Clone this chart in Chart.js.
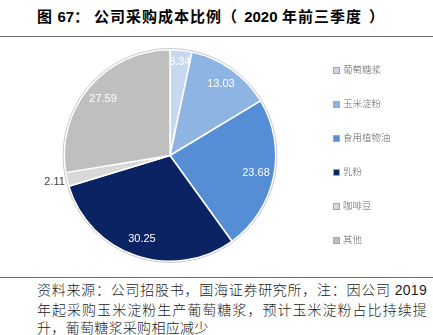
<!DOCTYPE html>
<html>
<head>
<meta charset="utf-8">
<script src="https://cdn.jsdelivr.net/npm/chart.js@4"></script>
<style>
  html, body { margin: 0; padding: 0; background: #fff; }
  body { width: 433px; height: 335px; position: relative; overflow: hidden; font-family: "Noto Sans CJK SC", sans-serif; }
  #title { position: absolute; left: 37px; top: 5px; font-size: 15px; letter-spacing: 1px; font-weight: bold; color: #000; white-space: nowrap; line-height: 22px; }
  #title .num { font-family: "Liberation Sans", Arial, sans-serif; letter-spacing: 0; }
  #title .gap { display: inline-block; }
  #line1 { position: absolute; left: 0; top: 36px; width: 433px; height: 0; border-top: 1.5px solid #6e6e6e; }
  #line2 { position: absolute; left: 0; top: 277px; width: 433px; height: 0; border-top: 1.5px solid #6e6e6e; }
  #wrap { position: absolute; left: 0; top: 40px; width: 433px; height: 236px; }
  #foot { position: absolute; left: 37px; top: 280px; width: 390px; font-size: 14px; font-weight: 300; letter-spacing: 0.3px; line-height: 18.5px; color: #222; text-align: justify; }
  #legend { position: absolute; left: 333px; top: 0; }
  .li { position: absolute; left: 0; white-space: nowrap; font-size: 9.5px; font-weight: 300; color: #666; line-height: 12px; height: 12px; }
  .sw { position: absolute; left: 0; top: 2.5px; width: 5px; height: 5px; border: 1px solid #a6a6a6; }
  .lt { position: absolute; left: 10px; top: -1px; }
</style>
</head>
<body>
<div id="title">图 <span class="num">67</span>：<span class="gap" style="width:4px"></span>公司采购成本比例（<span class="gap" style="width:6px"></span><span class="num">2020</span> 年前三季度<span class="gap" style="width:7px"></span>）</div>
<div id="line1"></div>
<div id="wrap"><canvas id="c"></canvas></div>
<div id="legend"></div>
<div id="line2"></div>
<div id="foot">资料来源：公司招股书，国海证券研究所，注：因公司 <span style="font-family:'Liberation Sans',Arial,sans-serif">2019</span> 年起采购玉米淀粉生产葡萄糖浆，预计玉米淀粉占比持续提升，葡萄糖浆采购相应减少</div>
<script>
const categories = ["葡萄糖浆", "玉米淀粉", "食用植物油", "乳粉", "咖啡豆", "其他"];
const shares = [3.34, 13.03, 23.68, 30.25, 2.11, 27.59];
const colors = ["#c6d9f1", "#8eb4e3", "#558ed5", "#0b2263", "#d9d9d9", "#bfbfbf"];

// HTML legend built from the same arrays
const legendEl = document.getElementById('legend');
categories.forEach((name, i) => {
  const d = document.createElement('div');
  d.className = 'li';
  d.style.top = (64 + i * 34) + 'px';
  const sw = document.createElement('div');
  sw.className = 'sw';
  sw.style.background = colors[i];
  const t = document.createElement('div');
  t.className = 'lt';
  t.textContent = name;
  d.appendChild(sw); d.appendChild(t);
  legendEl.appendChild(d);
});

const labelPlugin = {
  id: 'sliceLabels',
  afterDatasetsDraw(chart) {
    const ctx = chart.ctx;
    const meta = chart.getDatasetMeta(0);
    const data = chart.data.datasets[0].data;
    const total = data.reduce((a, b) => a + b, 0);
    if (meta.data.length) {
      const a0 = meta.data[0];
      ctx.save();
      ctx.beginPath();
      ctx.arc(a0.x, a0.y, a0.outerRadius + 1.2, 0, Math.PI * 2);
      ctx.strokeStyle = '#c8c8c8';
      ctx.lineWidth = 1;
      ctx.stroke();
      ctx.restore();
    }
    ctx.save();
    ctx.font = '11px "Liberation Sans", Arial, sans-serif';
    ctx.textBaseline = 'middle';
    ctx.textAlign = 'center';
    meta.data.forEach((arc, i) => {
      const v = data[i];
      const pct = v / total;
      const mid = (arc.startAngle + arc.endAngle) / 2;
      let f = 0.83, color = '#ffffff';
      if (pct < 0.025) { f = 1.12; color = '#404040'; }
      else if (pct < 0.05) { f = 0.89; }
      const x = arc.x + Math.cos(mid) * arc.outerRadius * f;
      const y = arc.y + Math.sin(mid) * arc.outerRadius * f;
      ctx.fillStyle = color;
      ctx.fillText(v.toFixed(2), x, y);
    });
    ctx.restore();
  }
};

new Chart(document.getElementById('c'), {
  type: 'pie',
  data: {
    labels: categories,
    datasets: [{
      data: shares,
      backgroundColor: colors,
      borderColor: '#ffffff',
      borderWidth: 1.5
    }]
  },
  options: {
    responsive: true,
    maintainAspectRatio: false,
    animation: false,
    layout: { padding: { top: 9, bottom: 14, left: 0, right: 93 } },
    plugins: {
      tooltip: { enabled: false },
      legend: { display: false }
    }
  },
  plugins: [labelPlugin]
});
</script>
</body>
</html>
